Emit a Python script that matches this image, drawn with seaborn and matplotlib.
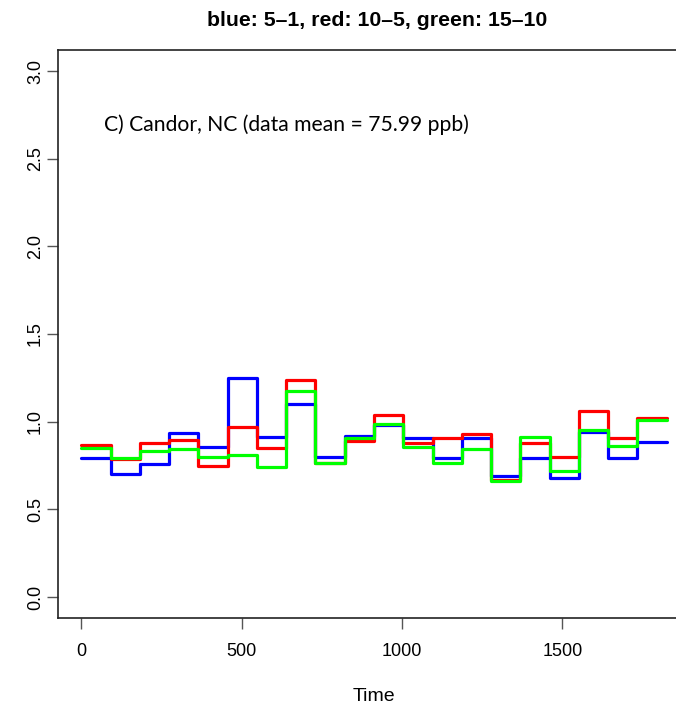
import numpy as np
import pandas as pd
import matplotlib
matplotlib.use("Agg")
import matplotlib.pyplot as plt
import seaborn as sns

# ---- data ----
time = [0, 91, 182, 274, 365, 456, 547, 639, 730, 821, 912,
        1004, 1095, 1186, 1277, 1369, 1460, 1551, 1643, 1734, 1825]
blue_5_1 = [0.790, 0.700, 0.757, 0.934, 0.857, 1.248, 0.915, 1.099, 0.797, 0.920,
            0.980, 0.908, 0.795, 0.908, 0.689, 0.790, 0.676, 0.943, 0.792, 0.886]
red_10_5 = [0.867, 0.787, 0.880, 0.896, 0.747, 0.972, 0.848, 1.238, 0.763, 0.890,
            1.038, 0.879, 0.904, 0.928, 0.670, 0.879, 0.799, 1.063, 0.908, 1.020]
green_15_10 = [0.848, 0.791, 0.835, 0.844, 0.797, 0.812, 0.740, 1.177, 0.763, 0.905,
               0.986, 0.854, 0.763, 0.846, 0.663, 0.914, 0.718, 0.953, 0.860, 1.009]
series_names = ["blue", "red", "green"]
series_colors = ["#0000FF", "#FF0000", "#00FF00"]
x_ticks = [0, 500, 1000, 1500]
y_ticks = [0.0, 0.5, 1.0, 1.5, 2.0, 2.5, 3.0]

rows = []
for name, vals in zip(series_names, [blue_5_1, red_10_5, green_15_10]):
    ext = list(vals) + [vals[-1]]
    for t, v in zip(time, ext):
        rows.append({"Time": t, "value": v, "series": name})
df = pd.DataFrame(rows)

sns.set_theme(style="white")
plt.rcParams["font.family"] = ["Liberation Sans", "DejaVu Sans"]
plt.rcParams["text.color"] = "black"
plt.rcParams["axes.labelcolor"] = "black"
plt.rcParams["xtick.color"] = "black"
plt.rcParams["ytick.color"] = "black"

fig = plt.figure(figsize=(6.76, 7.05), dpi=100)
ax = fig.add_axes([58/676, (705-618)/705, (690-58)/676, (618-50)/705])

sns.lineplot(data=df, x="Time", y="value", hue="series",
             hue_order=series_names, palette=series_colors,
             drawstyle="steps-post", linewidth=2.3, legend=False, ax=ax,
             estimator=None, sort=True)

ax.set_xlim(-73, 1898)
ax.set_ylim(-0.12, 3.12)
ax.set_xticks(x_ticks)
ax.set_xticklabels([str(v) for v in x_ticks], fontsize=13)
ax.set_yticks(y_ticks)
ax.set_yticklabels([f"{v:.1f}" for v in y_ticks], fontsize=13, rotation=90, va="center")
ax.tick_params(axis="both", direction="out", length=8, width=1, color="#555555",
               labelcolor="black")
ax.tick_params(axis="x", pad=10)
ax.tick_params(axis="y", pad=2)
ax.tick_params(axis="both", which="both", bottom=True, left=True, top=False, right=False)
for s in ax.spines.values():
    s.set_visible(True)
    s.set_color("#222222")
    s.set_linewidth(1.2)

ax.set_xlabel("Time", fontsize=14, labelpad=20)
ax.set_ylabel("")
fig.text(377/676, 1 - 21/705, "blue: 5\u20131, red: 10\u20135, green: 15\u201310",
         ha="center", va="center", fontsize=15.3, fontweight="bold")
ax.text(0.072, 0.868, "C) Candor, NC (data mean = 75.99 ppb)", transform=ax.transAxes,
        fontsize=15.2, family=["Lato", "DejaVu Sans"], va="center", ha="left")

fig.savefig("out.png", dpi=100)
